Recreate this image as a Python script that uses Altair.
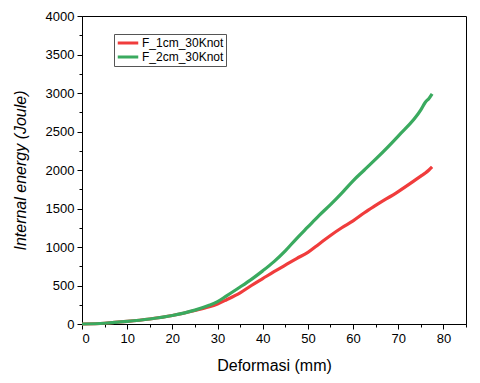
import altair as alt
import pandas as pd

x_vals = [0, 5, 10, 15, 20, 25, 28, 30, 32, 35, 37.5, 40, 42.5, 45, 47.5, 50, 52.5, 55, 57.5, 60, 62.5, 65, 70, 75, 76, 76.8, 77.5]
red_vals = [0, 10, 33, 65, 110, 175, 220, 260, 315, 405, 500, 590, 680, 765, 850, 930, 1040, 1150, 1250, 1340, 1445, 1540, 1720, 1920, 1960, 2000, 2040]
green_vals = [0, 10, 33, 65, 110, 180, 240, 290, 365, 480, 580, 690, 810, 950, 1110, 1260, 1410, 1550, 1700, 1860, 2000, 2140, 2440, 2780, 2880, 2930, 2990]
series_names = ["F_1cm_30Knot", "F_2cm_30Knot"]
colors = ["#f03c3c", "#3aaa5f"]

rows = []
for name, vals in zip(series_names, [red_vals, green_vals]):
    for xv, yv in zip(x_vals, vals):
        rows.append({"x": xv, "y": yv, "series": name})
df = pd.DataFrame(rows)

font = "Liberation Sans"

xscale = alt.Scale(domain=[0, 85], nice=False, zero=False)
yscale = alt.Scale(domain=[0, 4000], nice=False)

base = alt.Chart(df)

lines = base.mark_line(strokeWidth=3.2, interpolate="monotone").encode(
    x=alt.X("x:Q", scale=xscale,
            axis=alt.Axis(title="Deformasi (mm)", values=list(range(0, 90, 10)), format="d",
                          tickSize=5, grid=False, domainColor="black", tickColor="black",
                          labelFont=font, labelFontSize=13, labelColor="black", labelPadding=3,
                          titleFont=font, titleFontSize=16, titleFontWeight="normal",
                          titleColor="black", titlePadding=12, orient="bottom")),
    y=alt.Y("y:Q", scale=yscale,
            axis=alt.Axis(title="Internal energy (Joule)", values=list(range(0, 4001, 500)), format="d",
                          tickSize=5, grid=False, domainColor="black", tickColor="black",
                          labelFont=font, labelFontSize=13, labelColor="black", labelPadding=3,
                          titleFont=font, titleFontSize=16, titleFontWeight="normal",
                          titleFontStyle="italic", titleColor="black", titlePadding=17,
                          orient="left")),
    color=alt.Color("series:N", scale=alt.Scale(domain=series_names, range=colors),
                    legend=alt.Legend(title=None, orient="none", legendX=32, legendY=18,
                                      symbolType="stroke", symbolStrokeWidth=3.2, symbolSize=420,
                                      clipHeight=14,
                                      labelFont=font, labelFontSize=12, labelColor="black",
                                      labelOffset=2,
                                      strokeColor="#555555", padding=2, rowPadding=0,
                                      fillColor="white")),
    detail="series:N",
)

minor = base.mark_point(opacity=0).encode(
    x=alt.X("x:Q", scale=xscale,
            axis=alt.Axis(title=None, values=list(range(5, 90, 10)), labels=False,
                          tickSize=3, grid=False, domain=False, tickColor="black",
                          orient="bottom")),
    y=alt.Y("y:Q", scale=yscale,
            axis=alt.Axis(title=None, values=list(range(250, 4000, 500)), labels=False,
                          tickSize=3, grid=False, domain=False, tickColor="black",
                          orient="left")),
)

chart = alt.layer(lines, minor).resolve_axis(x="independent", y="independent").properties(
    width=384, height=308,
    autosize=alt.AutoSizeParams(type="none"),
    padding={"left": 74, "top": 8, "right": 6, "bottom": 50},
    background="white",
).configure_view(stroke="black", strokeWidth=1)

chart.save("out.html", embed_options={"renderer": "svg", "actions": False})
